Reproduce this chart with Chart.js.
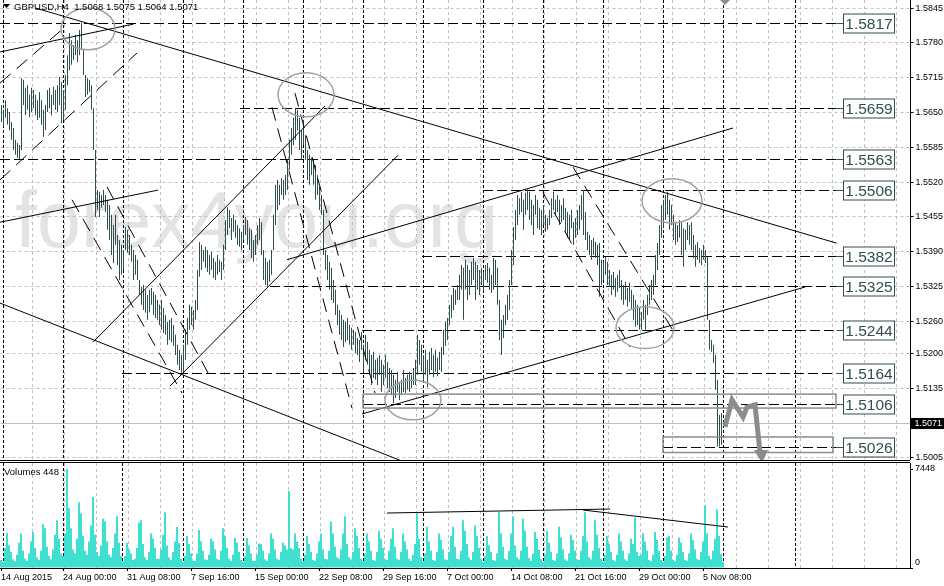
<!DOCTYPE html>
<html>
<head>
<meta charset="utf-8">
<script src="https://cdn.jsdelivr.net/npm/chart.js@4.4.1/dist/chart.umd.min.js"></script>
<style>
  body { margin: 0; background: #fff; }
  #wrap { position: relative; width: 944px; height: 586px; overflow: hidden; background: #fff; }
  #price { position: absolute; left: 0; top: 0; }
  #vol { position: absolute; left: 0; top: 463px; }
  .sep { position: absolute; left: 0; width: 910px; height: 1px; background: #000; }
</style>
</head>
<body>
<div id="wrap">
  <canvas id="price" width="944" height="460" style="width:944px;height:460px"></canvas>
  <div class="sep" style="top:460px"></div>
  <div class="sep" style="top:462px"></div>
  <canvas id="vol" width="944" height="123" style="width:944px;height:123px"></canvas>
</div>
<script>
// GBPUSD H4, one bar every 4 hours from 14 Aug 2015 20:00
var symbolTitle = 'GBPUSD,H4';
var lastBar = [1.5068, 1.5075, 1.5064, 1.5071]; // open high low close

var tickBars = [0, 31, 63, 95, 127, 159, 191, 223, 255, 287, 319, 351];
var tickLabels = ['14 Aug 2015', '24 Aug 00:00', '31 Aug 08:00', '7 Sep 16:00', '15 Sep 00:00', '22 Sep 08:00',
  '29 Sep 16:00', '7 Oct 00:00', '14 Oct 08:00', '21 Oct 16:00', '29 Oct 00:00', '5 Nov 08:00'];
var weekStarts = [1, 31, 61, 91, 121, 151, 181, 211, 241, 271, 301, 331, 361, 397];

var priceTicks = [1.5845, 1.5780, 1.5715, 1.5650, 1.5585, 1.5520, 1.5455, 1.5390, 1.5325, 1.5260, 1.5200, 1.5135, 1.5005];
var volumeTicks = [0, 7448];

var highs = [
  1.5664,1.5655,1.5673,1.5658,1.5651,1.5632,1.5621,1.5599,1.5593,1.5589,
  1.5714,1.5711,1.5696,1.5701,1.5683,1.5696,1.5692,1.5683,1.5673,1.5688,
  1.5673,1.5655,1.5664,1.5692,1.5696,1.5683,1.5698,1.5692,1.5701,1.5716,
  1.5707,1.5692,1.5720,1.5757,1.5798,1.5785,1.5776,1.5795,1.5785,1.5804,
  1.5817,1.5767,1.5720,1.5714,1.5711,1.5701,1.5658,1.5580,1.5505,1.5502,
  1.5496,1.5505,1.5496,1.5487,1.5477,1.5459,1.5440,1.5459,1.5421,1.5412,
  1.5403,1.5393,1.5436,1.5431,1.5421,1.5403,1.5393,1.5384,1.5375,1.5337,
  1.5324,1.5328,1.5319,1.5309,1.5319,1.5322,1.5315,1.5309,1.5300,1.5291,
  1.5300,1.5285,1.5272,1.5259,1.5263,1.5266,1.5253,1.5235,1.5216,1.5207,
  1.5197,1.5216,1.5244,1.5266,1.5291,1.5287,1.5281,1.5300,1.5356,1.5408,
  1.5403,1.5393,1.5399,1.5393,1.5384,1.5390,1.5378,1.5371,1.5384,1.5375,
  1.5371,1.5403,1.5449,1.5473,1.5468,1.5453,1.5459,1.5449,1.5440,1.5434,
  1.5427,1.5440,1.5455,1.5449,1.5434,1.5431,1.5412,1.5421,1.5440,1.5453,
  1.5445,1.5393,1.5378,1.5371,1.5375,1.5393,1.5459,1.5515,1.5524,1.5515,
  1.5527,1.5524,1.5533,1.5561,1.5599,1.5621,1.5640,1.5659,1.5655,1.5640,
  1.5617,1.5636,1.5608,1.5580,1.5571,1.5565,1.5561,1.5552,1.5533,1.5511,
  1.5496,1.5468,1.5393,1.5384,1.5371,1.5360,1.5337,1.5319,1.5291,1.5281,
  1.5272,1.5263,1.5259,1.5266,1.5253,1.5248,1.5244,1.5240,1.5229,1.5225,
  1.5240,1.5216,1.5235,1.5222,1.5207,1.5197,1.5203,1.5188,1.5192,1.5197,
  1.5188,1.5179,1.5197,1.5184,1.5173,1.5169,1.5160,1.5151,1.5166,1.5147,
  1.5151,1.5169,1.5154,1.5160,1.5166,1.5160,1.5173,1.5188,1.5235,1.5225,
  1.5216,1.5197,1.5207,1.5188,1.5203,1.5210,1.5197,1.5207,1.5192,1.5203,
  1.5212,1.5244,1.5259,1.5266,1.5291,1.5309,1.5322,1.5319,1.5328,1.5347,
  1.5365,1.5360,1.5375,1.5365,1.5356,1.5371,1.5378,1.5371,1.5365,1.5356,
  1.5360,1.5352,1.5365,1.5369,1.5360,1.5347,1.5378,1.5375,1.5360,1.5300,
  1.5263,1.5272,1.5291,1.5309,1.5337,1.5393,1.5436,1.5468,1.5496,1.5490,
  1.5502,1.5487,1.5500,1.5506,1.5502,1.5487,1.5477,1.5496,1.5487,1.5472,
  1.5468,1.5477,1.5459,1.5453,1.5468,1.5490,1.5502,1.5487,1.5496,1.5487,
  1.5477,1.5490,1.5472,1.5464,1.5459,1.5468,1.5445,1.5453,1.5468,1.5477,
  1.5496,1.5505,1.5464,1.5427,1.5421,1.5412,1.5416,1.5408,1.5403,1.5406,
  1.5375,1.5371,1.5380,1.5371,1.5356,1.5347,1.5352,1.5341,1.5347,1.5356,
  1.5337,1.5328,1.5334,1.5322,1.5332,1.5319,1.5309,1.5300,1.5291,1.5285,
  1.5278,1.5300,1.5291,1.5309,1.5328,1.5337,1.5347,1.5384,1.5406,1.5440,
  1.5477,1.5487,1.5496,1.5502,1.5487,1.5477,1.5459,1.5445,1.5440,1.5449,
  1.5445,1.5434,1.5431,1.5445,1.5440,1.5445,1.5421,1.5403,1.5408,1.5397,
  1.5393,1.5403,1.5393,1.5380,1.5263,1.5225,1.5216,1.5197,1.5151,1.5085,
  1.5089,1.5075
];
var lows = [
  1.5632,1.5623,1.5640,1.5627,1.5617,1.5599,1.5580,1.5571,1.5565,1.5563,
  1.5580,1.5664,1.5645,1.5655,1.5641,1.5651,1.5658,1.5645,1.5636,1.5640,
  1.5627,1.5604,1.5617,1.5651,1.5658,1.5645,1.5664,1.5655,1.5651,1.5664,
  1.5630,1.5636,1.5655,1.5701,1.5729,1.5739,1.5748,1.5757,1.5744,1.5757,
  1.5767,1.5720,1.5679,1.5683,1.5688,1.5655,1.5580,1.5455,1.5468,1.5455,
  1.5472,1.5477,1.5464,1.5431,1.5412,1.5384,1.5369,1.5403,1.5365,1.5337,
  1.5347,1.5356,1.5393,1.5388,1.5384,1.5371,1.5337,1.5347,1.5337,1.5309,
  1.5291,1.5281,1.5276,1.5263,1.5277,1.5291,1.5272,1.5266,1.5263,1.5253,
  1.5244,1.5238,1.5235,1.5216,1.5225,1.5221,1.5214,1.5197,1.5179,1.5169,
  1.5164,1.5164,1.5188,1.5216,1.5244,1.5253,1.5244,1.5263,1.5281,1.5343,
  1.5356,1.5371,1.5360,1.5352,1.5347,1.5356,1.5341,1.5337,1.5347,1.5352,
  1.5337,1.5356,1.5393,1.5421,1.5434,1.5412,1.5427,1.5416,1.5403,1.5399,
  1.5393,1.5412,1.5421,1.5403,1.5393,1.5378,1.5371,1.5384,1.5403,1.5412,
  1.5384,1.5337,1.5328,1.5325,1.5334,1.5347,1.5393,1.5440,1.5468,1.5477,
  1.5496,1.5487,1.5496,1.5505,1.5543,1.5571,1.5589,1.5599,1.5617,1.5580,
  1.5561,1.5589,1.5561,1.5524,1.5515,1.5533,1.5515,1.5487,1.5496,1.5468,
  1.5459,1.5384,1.5356,1.5337,1.5319,1.5300,1.5294,1.5272,1.5253,1.5235,
  1.5225,1.5212,1.5221,1.5225,1.5216,1.5207,1.5216,1.5201,1.5197,1.5184,
  1.5207,1.5166,1.5188,1.5179,1.5160,1.5141,1.5154,1.5151,1.5141,1.5160,
  1.5128,1.5141,1.5154,1.5135,1.5128,1.5122,1.5107,1.5117,1.5128,1.5113,
  1.5122,1.5128,1.5126,1.5132,1.5128,1.5135,1.5141,1.5141,1.5160,1.5179,
  1.5166,1.5151,1.5160,1.5137,1.5160,1.5169,1.5156,1.5166,1.5158,1.5169,
  1.5166,1.5197,1.5214,1.5225,1.5253,1.5266,1.5281,1.5291,1.5300,1.5300,
  1.5319,1.5263,1.5319,1.5300,1.5309,1.5328,1.5337,1.5300,1.5319,1.5309,
  1.5328,1.5319,1.5337,1.5332,1.5319,1.5313,1.5319,1.5328,1.5291,1.5225,
  1.5197,1.5229,1.5253,1.5263,1.5281,1.5328,1.5365,1.5412,1.5440,1.5459,
  1.5464,1.5431,1.5459,1.5468,1.5449,1.5440,1.5421,1.5459,1.5434,1.5431,
  1.5421,1.5440,1.5427,1.5431,1.5440,1.5453,1.5468,1.5459,1.5464,1.5440,
  1.5445,1.5449,1.5427,1.5416,1.5412,1.5434,1.5403,1.5416,1.5421,1.5431,
  1.5449,1.5421,1.5412,1.5393,1.5384,1.5375,1.5384,1.5378,1.5365,1.5306,
  1.5328,1.5337,1.5347,1.5328,1.5324,1.5309,1.5319,1.5306,1.5315,1.5322,
  1.5300,1.5291,1.5300,1.5287,1.5296,1.5281,1.5263,1.5250,1.5253,1.5244,
  1.5244,1.5263,1.5244,1.5272,1.5291,1.5300,1.5309,1.5328,1.5356,1.5384,
  1.5416,1.5434,1.5449,1.5459,1.5431,1.5440,1.5412,1.5403,1.5408,1.5416,
  1.5384,1.5362,1.5393,1.5412,1.5403,1.5393,1.5378,1.5362,1.5375,1.5369,
  1.5365,1.5375,1.5369,1.5263,1.5207,1.5203,1.5182,1.5132,1.5026,1.5026,
  1.5029,1.5064
];
var volumes = [
  600,
  450,1500,2630,1700,1200,650,   500,1000,1900,2600,1300,700,   550,1100,2000,2700,1500,800,
  600,1300,3300,3000,1600,900,   650,1400,2500,3600,2200,1100,
  900,2600,7448,4500,3000,1400,  1100,2200,4950,4100,2400,1300, 1000,2000,3200,5340,2500,1200,
  900,1700,3700,3500,2000,1000,  800,1500,2600,3900,1900,900,
  500,900,1900,1400,1100,600,    700,1500,3400,3600,1800,800,   600,1200,2600,2200,1500,700,
  700,1400,2500,4200,1700,800,   600,1200,2000,3100,1900,700,
  450,900,2400,1800,1100,550,    550,1100,2850,2000,1300,650,   600,1000,2200,2000,1400,700,
  600,1300,3000,2400,1500,700,   550,1000,2250,1900,1200,600,
  450,900,2250,1700,1100,550,    550,1000,1850,1800,1300,650,   550,1100,2600,2200,1400,700,
  600,1200,1900,1700,1400,5790,  1500,1400,2600,2000,1500,700,
  500,1000,2400,1800,1200,600,   550,1100,2000,2600,1400,700,   650,1300,3500,2600,1600,800,
  700,1400,2600,3900,1800,800,   650,1200,3000,2400,1500,700,
  500,1100,2600,2000,1300,600,   550,1200,2800,2200,1500,700,   600,1300,2200,3000,1600,700,
  600,1200,2600,2000,1400,700,   550,1000,1800,4200,2200,800,
  500,1100,3100,2000,1300,600,   550,1200,2600,2100,1400,650,   600,1200,2400,3100,1600,700,
  650,1300,3600,2800,1800,800,   600,1200,3200,2400,1500,700,
  450,900,2400,1700,1200,600,    550,1100,4200,2600,1600,700,   600,1300,2600,3900,1700,800,
  650,1300,3700,2800,1600,750,   550,1100,2700,2200,1400,650,
  450,1000,2800,1900,1200,600,   550,1100,3100,2300,1400,650,   550,1100,2500,2100,1300,650,
  600,1300,2400,4200,2000,800,   650,1300,3600,2500,1500,700,
  450,1000,2400,1800,1200,600,   500,1000,2600,2000,1300,650,   550,1100,2200,1800,3800,1200,
  900,1000,2600,2000,1300,600,   500,1000,2700,2100,1300,600,
  450,900,2300,2400,1300,600,    500,1000,2300,1900,1200,600,   550,1100,2600,2100,1400,700,
  600,1200,2000,4700,2600,900,   650,1300,2200,4400,2400,1050,
  448
];

// horizontal levels and where their dashed line starts (bar index)
var levels = [1.5817, 1.5659, 1.5563, 1.5506, 1.5382, 1.5325, 1.5244, 1.5164, 1.5106, 1.5026];
var levelFrom = [-0.75, 119.25, -0.75, 240.75, 210.25, 134.25, 180.25, 60.25, 180.75, 330.75];
var levelTo = 417.5;

// trend lines: bar1, price1, bar2, price2, dashed
var trendLines = [
  [17, 1.5845, 417.5, 1.5406, 0],
  [-0.75, 1.5763, 66, 1.5815, 0],
  [-0.75, 1.5705, 30, 1.5804, 1],
  [-0.75, 1.5524, 67.75, 1.5761, 1],
  [-0.75, 1.5445, 78.25, 1.5505, 0],
  [-0.75, 1.5294, 200.25, 1.4999, 0],
  [45.75, 1.5221, 161.75, 1.5662, 0],
  [84.25, 1.5139, 198.25, 1.5570, 0],
  [35.25, 1.5487, 90.25, 1.5126, 1],
  [52.75, 1.5511, 105.25, 1.5150, 1],
  [135.25, 1.5660, 175.25, 1.5098, 1],
  [146.75, 1.5686, 186.75, 1.5126, 1],
  [180.25, 1.5087, 401.75, 1.5324, 0],
  [142.75, 1.5375, 365.75, 1.5621, 0],
  [270.75, 1.5500, 314.25, 1.5212, 1],
  [285.75, 1.5548, 336.25, 1.5240, 1]
];
// ellipses: bar, price, half width in bars, half height in price
var ellipses = [
  [43.25, 1.5806, 13.5, 0.0039],
  [152.25, 1.5683, 14, 0.0041],
  [205.75, 1.5113, 14, 0.0037],
  [321.75, 1.5248, 14.5, 0.0039],
  [335.25, 1.5485, 15, 0.0041]
];
// rectangles: bar1, price1, bar2, price2
var boxes = [
  [180.75, 1.5124, 417.25, 1.5098],
  [330.75, 1.5044, 415.75, 1.5015]
];
// forecast path
var forecastBars = [361.75, 365.25, 370.75, 372.75, 376.75, 379.25];
var forecastPrices = [1.5063, 1.5113, 1.5081, 1.5100, 1.5104, 1.5016];
// volume trend lines: bar1, vol1, bar2, vol2
var volLines = [
  [193, 4136, 304.5, 4437],
  [291, 4362, 363.5, 3083]
];

var totalBars = 455;
var cats = [];
for (var i = 0; i < totalBars; i++) cats.push(i);

Chart.defaults.font.family = '"Liberation Sans", Arial, sans-serif';
Chart.defaults.font.size = 9;
Chart.defaults.color = '#000';

function vline(ctx, x, top, bottom) {
  ctx.beginPath();
  ctx.moveTo(Math.floor(x) + 0.5, top);
  ctx.lineTo(Math.floor(x) + 0.5, bottom);
  ctx.stroke();
}

var gridPlugin = {
  id: 'mtgrid',
  beforeDatasetsDraw: function(chart) {
    var ctx = chart.ctx, a = chart.chartArea, xs = chart.scales.x;
    ctx.save();
    ctx.lineWidth = 1;
    ctx.strokeStyle = '#c0c0c0';
    ctx.setLineDash([3, 3]);
    for (var b = 15.5; b < totalBars; b += 16) vline(ctx, xs.getPixelForValue(b), a.top, a.bottom);
    ctx.strokeStyle = '#000';
    ctx.setLineDash([3, 2]);
    weekStarts.forEach(function(w) { vline(ctx, xs.getPixelForValue(w), a.top, a.bottom); });
    ctx.restore();
  }
};

var pricePlugin = {
  id: 'priceExtras',
  beforeDraw: function(chart) {
    var ctx = chart.ctx;
    ctx.save();
    ctx.fillStyle = '#e3e3e3';
    ctx.font = '79px "Liberation Sans", Arial, sans-serif';
    ctx.fillText('forex4you.org', 15, 247);
    ctx.restore();
  },
  beforeDatasetsDraw: function(chart) {
    var ctx = chart.ctx, a = chart.chartArea, xs = chart.scales.x, ys = chart.scales.y;
    ctx.save();
    // bid line
    ctx.strokeStyle = '#c0c0c0';
    ctx.lineWidth = 1;
    var by = Math.round(ys.getPixelForValue(lastBar[3])) + 0.5;
    ctx.beginPath(); ctx.moveTo(a.left, by); ctx.lineTo(a.right, by); ctx.stroke();
    // level lines
    ctx.strokeStyle = '#000';
    ctx.setLineDash([10, 4]);
    levels.forEach(function(p, k) {
      var y = Math.round(ys.getPixelForValue(p)) + 0.5;
      ctx.beginPath();
      ctx.moveTo(xs.getPixelForValue(levelFrom[k]), y);
      ctx.lineTo(xs.getPixelForValue(levelTo), y);
      ctx.stroke();
    });
    ctx.restore();
  },
  afterDatasetsDraw: function(chart) {
    var ctx = chart.ctx, a = chart.chartArea, xs = chart.scales.x, ys = chart.scales.y;
    ctx.save();
    ctx.lineWidth = 1;
    ctx.strokeStyle = '#000';
    trendLines.forEach(function(t) {
      ctx.setLineDash(t[4] ? [14, 8] : []);
      ctx.beginPath();
      ctx.moveTo(xs.getPixelForValue(t[0]), ys.getPixelForValue(t[1]));
      ctx.lineTo(xs.getPixelForValue(t[2]), ys.getPixelForValue(t[3]));
      ctx.stroke();
    });
    ctx.setLineDash([]);
    // ellipses
    ctx.strokeStyle = '#a0a0a0';
    ctx.lineWidth = 1.5;
    ellipses.forEach(function(e) {
      var cx = xs.getPixelForValue(e[0]), cy = ys.getPixelForValue(e[1]);
      var rx = Math.abs(xs.getPixelForValue(e[0] + e[2]) - cx);
      var ry = Math.abs(ys.getPixelForValue(e[1] + e[3]) - cy);
      ctx.beginPath(); ctx.ellipse(cx, cy, rx, ry, 0, 0, Math.PI * 2); ctx.stroke();
    });
    // rectangles
    ctx.strokeStyle = '#8c8c8c';
    boxes.forEach(function(r) {
      var x1 = xs.getPixelForValue(r[0]), x2 = xs.getPixelForValue(r[2]);
      var y1 = ys.getPixelForValue(r[1]), y2 = ys.getPixelForValue(r[3]);
      ctx.strokeRect(x1, y1, x2 - x1, y2 - y1);
    });
    // forecast arrow
    ctx.strokeStyle = '#8c8c8c';
    ctx.fillStyle = '#8c8c8c';
    ctx.lineWidth = 5;
    ctx.beginPath();
    forecastBars.forEach(function(b, k) {
      var x = xs.getPixelForValue(b), y = ys.getPixelForValue(forecastPrices[k]);
      if (k === 0) ctx.moveTo(x, y); else ctx.lineTo(x, y);
    });
    ctx.stroke();
    var n = forecastBars.length - 1;
    var tx = xs.getPixelForValue(forecastBars[n]) + 1, ty = ys.getPixelForValue(forecastPrices[n]);
    ctx.beginPath(); ctx.moveTo(tx - 7, ty - 2); ctx.lineTo(tx + 7, ty - 2); ctx.lineTo(tx + 1, ty + 11); ctx.closePath(); ctx.fill();
    var top = xs.getPixelForValue(forecastBars[0]);
    ctx.beginPath(); ctx.moveTo(top - 5, a.top); ctx.lineTo(top + 5, a.top); ctx.lineTo(top, a.top + 5); ctx.closePath(); ctx.fill();
    // level labels
    ctx.lineWidth = 1;
    ctx.strokeStyle = '#2f4f4f';
    ctx.font = '15.5px "Liberation Sans", Arial, sans-serif';
    ctx.textAlign = 'center';
    ctx.textBaseline = 'middle';
    levels.forEach(function(p) {
      var y = Math.round(ys.getPixelForValue(p)) + 0.5;
      ctx.beginPath(); ctx.moveTo(xs.getPixelForValue(levelTo), y); ctx.lineTo(843.5, y); ctx.stroke();
      ctx.fillStyle = '#fff';
      ctx.fillRect(843.5, y - 9.5, 51, 19);
      ctx.strokeRect(843.5, y - 9.5, 51, 19);
      ctx.fillStyle = '#2f4f4f';
      ctx.fillText(p.toFixed(4), 869, y + 1);
    });
    ctx.restore();
  },
  afterDraw: function(chart) {
    var ctx = chart.ctx, a = chart.chartArea, ys = chart.scales.y;
    ctx.save();
    // current price tag
    var y = Math.round(ys.getPixelForValue(lastBar[3]));
    ctx.fillStyle = '#000';
    ctx.fillRect(a.right, y - 5, 944 - a.right, 11);
    ctx.fillStyle = '#fff';
    ctx.font = '9px "Liberation Sans", Arial, sans-serif';
    ctx.textBaseline = 'middle';
    ctx.fillText(lastBar[3].toFixed(4), a.right + 4, y + 0.5);
    // header
    ctx.fillStyle = '#000';
    ctx.beginPath(); ctx.moveTo(3, 4); ctx.lineTo(10, 4); ctx.lineTo(6.5, 8); ctx.closePath(); ctx.fill();
    ctx.font = '9.5px "Liberation Sans", Arial, sans-serif';
    ctx.fillText(symbolTitle + '  ' + lastBar.map(function(v) { return v.toFixed(4); }).join(' '), 14, 7);
    ctx.restore();
  }
};

var volumePlugin = {
  id: 'volExtras',
  afterDatasetsDraw: function(chart) {
    var ctx = chart.ctx, xs = chart.scales.x, ys = chart.scales.y;
    ctx.save();
    ctx.strokeStyle = '#000';
    ctx.lineWidth = 1;
    volLines.forEach(function(t) {
      ctx.beginPath();
      ctx.moveTo(xs.getPixelForValue(t[0]), ys.getPixelForValue(t[1]));
      ctx.lineTo(xs.getPixelForValue(t[2]), ys.getPixelForValue(t[3]));
      ctx.stroke();
    });
    ctx.fillStyle = '#000';
    ctx.font = '9.5px "Liberation Sans", Arial, sans-serif';
    ctx.textBaseline = 'middle';
    ctx.fillText('Volumes ' + volumes[volumes.length - 1], 4, 9);
    ctx.restore();
  }
};

var priceChart = new Chart(document.getElementById('price'), {
  type: 'bar',
  data: {
    labels: cats,
    datasets: [{
      data: highs.map(function(h, k) { return [lows[k], h]; }),
      backgroundColor: '#2f4f4f',
      barThickness: 1,
      inflateAmount: 0,
      borderWidth: 0
    }]
  },
  options: {
    responsive: false,
    animation: false,
    events: [],
    layout: { padding: { left: 0.5, right: 0, top: 0, bottom: 0 } },
    plugins: { legend: { display: false }, tooltip: { enabled: false } },
    scales: {
      x: { display: false },
      y: {
        position: 'right',
        min: 1.5001,
        max: 1.5860,
        afterBuildTicks: function(s) { s.ticks = priceTicks.map(function(v) { return { value: v }; }); },
        afterFit: function(s) { s.width = 33.5; s.paddingTop = 0; s.paddingBottom = 0; },
        ticks: { callback: function(v) { return v.toFixed(4); }, padding: 2, color: '#000' },
        grid: { color: '#c0c0c0', tickColor: '#000', tickLength: 3 },
        border: { color: '#000', dash: [3, 3] }
      }
    }
  },
  plugins: [gridPlugin, pricePlugin]
});

var volChart = new Chart(document.getElementById('vol'), {
  type: 'bar',
  data: {
    labels: cats,
    datasets: [{
      data: volumes,
      backgroundColor: '#40e0d0',
      barPercentage: 1,
      categoryPercentage: 1,
      inflateAmount: 0,
      borderWidth: 0
    }]
  },
  options: {
    responsive: false,
    animation: false,
    events: [],
    layout: { padding: 0 },
    plugins: { legend: { display: false }, tooltip: { enabled: false } },
    scales: {
      x: {
        afterBuildTicks: function(s) { s.ticks = tickBars.map(function(v) { return { value: v }; }); },
        afterFit: function(s) { s.height = 18; s.paddingLeft = 0; s.paddingRight = 0; },
        ticks: {
          callback: function(v, k) { return tickLabels[k]; },
          autoSkip: false, maxRotation: 0, minRotation: 0, align: 'start', padding: 1, color: '#000'
        },
        grid: { drawOnChartArea: false, offset: false, tickLength: 3, tickColor: '#000' },
        border: { color: '#000' }
      },
      y: {
        position: 'right',
        min: 0,
        max: 7900,
        afterBuildTicks: function(s) { s.ticks = volumeTicks.map(function(v) { return { value: v }; }); },
        afterFit: function(s) { s.width = 34; s.paddingTop = 0; s.paddingBottom = 0; },
        ticks: { callback: function(v) { return v === 0 ? ['0', ''] : String(v); }, padding: 2, color: '#000' },
        grid: { drawOnChartArea: false, tickLength: 3, tickColor: '#000' },
        border: { color: '#000' }
      }
    }
  },
  plugins: [gridPlugin, volumePlugin]
});
</script>
</body>
</html>
